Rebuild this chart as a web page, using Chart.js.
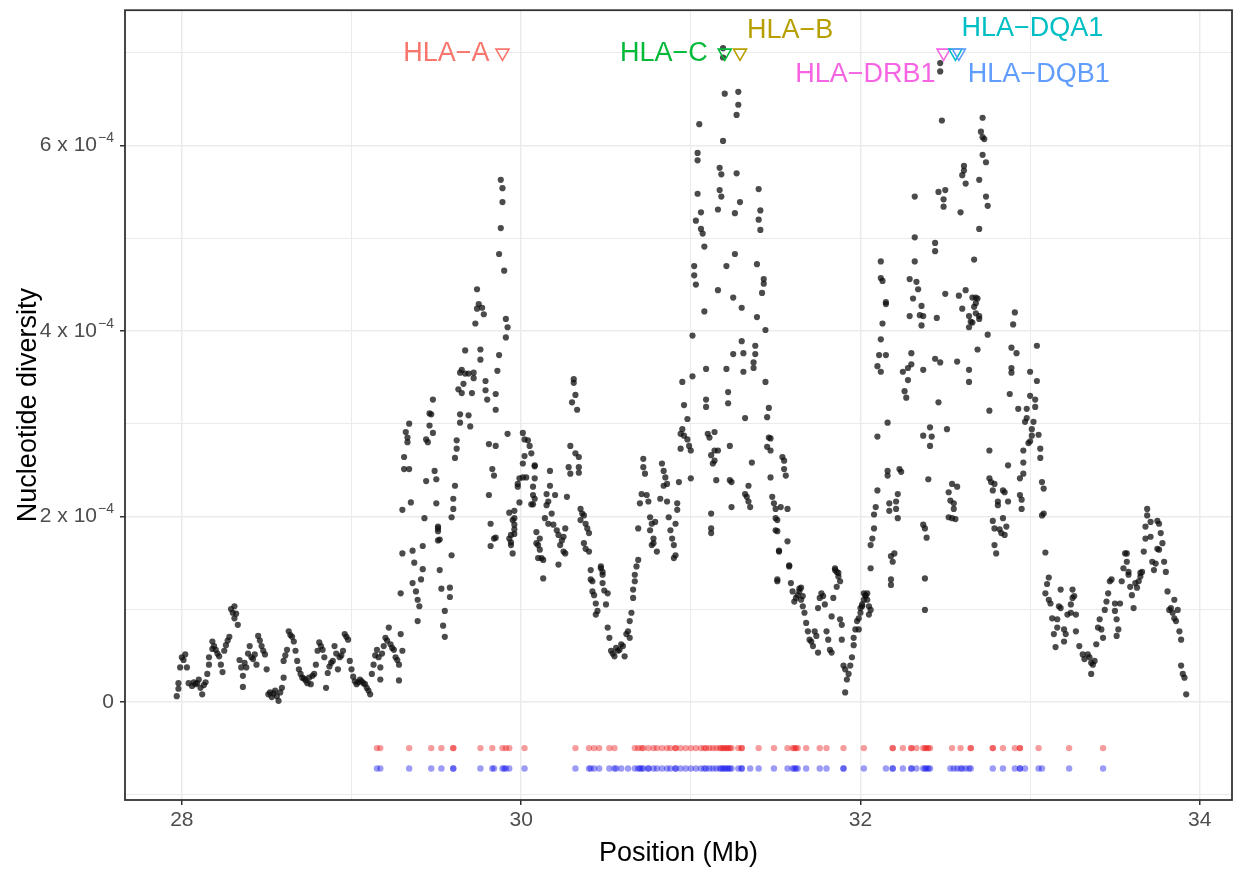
<!DOCTYPE html>
<html>
<head>
<meta charset="utf-8">
<script src="https://cdn.jsdelivr.net/npm/chart.js@4.4.1/dist/chart.umd.min.js"></script>
<style>
  html, body { margin: 0; padding: 0; background: #ffffff; }
  canvas { display: block; }
</style>
</head>
<body>
<canvas id="chart" width="1242" height="873"></canvas>
<script>
// Sliding-window nucleotide diversity across the MHC region.
// Each entry: [position in Mb, diversity in units of 1e-4]
const nucleotideDiversityE4 = [
  // 28.0 - 29.3 Mb: low background
  [27.97,0.06],[27.98,0.14],[27.98,0.20],[27.99,0.37],[28.00,0.48],[28.01,0.45],[28.02,0.51],[28.03,0.37],[28.04,0.20],
  [28.06,0.17],[28.07,0.21],[28.08,0.19],[28.09,0.20],[28.10,0.24],[28.11,0.15],[28.12,0.08],[28.13,0.18],[28.14,0.21],
  [28.15,0.30],[28.16,0.40],[28.16,0.48],[28.18,0.57],[28.18,0.65],[28.19,0.60],[28.20,0.56],[28.21,0.52],[28.22,0.49],
  [28.23,0.40],[28.24,0.32],[28.25,0.55],[28.26,0.61],[28.27,0.66],[28.28,0.70],[28.29,1.00],[28.30,0.96],[28.31,1.03],
  [28.31,0.90],[28.32,0.95],[28.33,0.83],[28.34,0.45],[28.35,0.37],[28.36,0.28],[28.36,0.16],[28.37,0.42],[28.38,0.37],
  [28.39,0.52],[28.40,0.60],[28.41,0.48],[28.42,0.46],[28.43,0.51],[28.44,0.40],[28.45,0.71],[28.46,0.66],[28.47,0.60],
  [28.48,0.55],[28.49,0.51],[28.50,0.35],[28.51,0.08],[28.52,0.10],[28.53,0.05],[28.54,0.09],[28.55,0.12],[28.56,0.06],
  [28.57,0.01],[28.58,0.10],[28.59,0.15],[28.60,0.26],[28.60,0.44],[28.61,0.50],[28.62,0.56],[28.63,0.76],[28.64,0.72],
  [28.65,0.70],[28.66,0.65],[28.67,0.55],[28.68,0.44],[28.69,0.35],[28.70,0.30],[28.71,0.26],[28.72,0.25],[28.73,0.23],
  [28.74,0.20],[28.75,0.26],[28.76,0.19],[28.77,0.28],[28.78,0.30],[28.79,0.40],[28.80,0.55],[28.81,0.64],[28.82,0.60],
  [28.83,0.56],[28.84,0.48],[28.85,0.15],[28.86,0.31],[28.87,0.38],[28.88,0.42],[28.89,0.44],[28.90,0.60],[28.91,0.52],
  [28.92,0.35],[28.93,0.48],[28.94,0.50],[28.95,0.55],[28.96,0.73],[28.97,0.70],[28.98,0.67],[28.99,0.44],[29.00,0.35],
  [29.01,0.27],[29.02,0.22],[29.03,0.19],[29.04,0.21],[29.05,0.24],[29.06,0.22],[29.07,0.20],[29.08,0.19],[29.09,0.15],
  [29.10,0.12],[29.11,0.08],[29.12,0.30],[29.13,0.40],[29.14,0.50],[29.15,0.56],[29.16,0.48],[29.17,0.37],[29.17,0.24],
  [29.18,0.52],[29.19,0.60],[29.20,0.69],[29.21,0.66],[29.22,0.80],[29.23,0.62],[29.24,0.58],[29.25,0.56],[29.26,0.48],
  [29.27,0.45],[29.28,0.23],[29.28,0.40],[29.29,0.73],[29.30,0.55],
  // 29.3 - 30.1 Mb: first rise, HLA-A peak
  [29.30,1.60],[29.29,1.17],[29.36,1.63],[29.36,1.28],[29.37,1.50],[29.38,1.19],[29.39,1.10],[29.40,1.03],[29.39,0.87],
  [29.41,1.32],[29.42,1.43],[29.42,1.68],[29.52,1.42],[29.53,1.22],[29.55,0.98],[29.54,0.82],[29.55,0.70],[29.58,1.23],
  [29.58,1.13],[29.59,1.58],[29.51,1.87],[29.51,1.74],[29.82,1.92],[29.85,1.77],[29.82,1.68],[29.96,1.98],
  [29.74,4.45],[29.75,4.29],[29.74,4.24],[29.77,4.25],[29.78,4.18],[29.73,4.08],[29.91,4.13],[29.92,4.04],[29.91,3.93],
  [29.67,3.79],[29.76,3.80],[29.76,3.69],[29.65,3.58],[29.67,3.54],[29.69,3.54],[29.72,3.55],[29.64,3.55],[29.72,3.49],
  [29.66,3.43],[29.63,3.37],[29.65,3.33],[29.71,3.33],[29.79,3.46],[29.79,3.36],[29.80,3.26],[29.87,3.74],[29.86,3.57],
  [29.85,3.32],[29.85,3.15],
  [29.48,3.26],[29.46,3.11],[29.47,3.10],[29.46,2.98],[29.48,2.90],[29.44,2.83],[29.45,2.80],[29.34,3.00],[29.32,2.91],
  [29.33,2.85],[29.33,2.80],[29.31,2.64],[29.31,2.51],[29.34,2.51],[29.35,2.15],[29.30,2.07],[29.49,2.49],[29.50,2.40],
  [29.44,2.38],[29.50,2.14],[29.43,1.98],[29.51,1.89],[29.51,1.84],[29.52,1.75],
  [29.88,5.63],[29.89,5.54],[29.89,5.39],[29.88,5.11],[29.87,4.83],[29.90,4.65],
  [29.64,3.10],[29.69,3.09],[29.64,3.01],[29.70,2.97],[29.62,2.82],[29.62,2.73],[29.61,2.63],[29.61,2.33],[29.60,2.19],
  [29.60,2.08],[29.59,1.99],[29.81,2.78],[29.85,2.76],[29.83,2.51],[29.84,2.44],[29.81,2.23],[29.84,1.76],[29.92,2.89],
  [30.01,2.90],[30.02,2.83],[30.04,2.82],[30.05,2.76],[30.02,2.65],[30.06,2.68],[30.01,2.57],[30.08,2.54],[29.99,2.41],
  [30.01,2.42],[30.03,2.42],[29.98,2.35],[29.98,2.32],[30.07,2.32],[30.08,2.41],[29.99,2.15],[30.07,2.13],[30.08,2.19],
  [29.93,2.04],[29.96,2.06],[29.95,1.96],[29.96,1.91],[29.96,1.81],[29.93,1.76],[29.94,1.69],[29.95,1.60],[30.09,1.83],
  [30.10,1.69],[30.10,1.55],[29.94,1.80],[29.94,1.72],[29.96,1.86],
  // 30.1 - 30.95 Mb
  [30.08,2.55],[30.07,2.23],[30.06,2.13],[30.17,2.49],[30.17,2.33],[30.15,2.24],[30.16,2.16],[30.20,2.23],[30.15,2.12],
  [30.18,2.03],[30.14,1.98],[30.16,1.92],[30.19,1.91],[30.21,1.85],[30.11,1.76],[30.09,1.71],[30.11,1.64],[30.12,1.55],
  [30.13,1.53],[30.13,1.33],[30.22,1.80],[30.24,1.74],[30.23,1.69],[30.25,1.78],[30.26,1.87],[30.25,1.62],[30.22,1.48],
  [30.29,2.76],[30.32,2.68],[30.34,2.64],[30.28,2.53],[30.29,2.46],[30.34,2.53],[30.34,2.47],[30.27,2.21],[30.35,2.08],
  [30.36,2.03],[30.37,2.01],[30.38,1.92],[30.35,1.96],[30.39,1.87],[30.40,1.82],[30.37,1.71],[30.38,1.65],[30.40,1.62],
  [30.41,1.42],[30.41,1.32],[30.47,1.46],[30.48,1.40],
  [30.31,3.48],[30.31,3.44],[30.32,3.31],[30.30,3.23],[30.33,3.15],
  [30.69,1.87],[30.72,2.62],[30.72,2.53],[30.73,2.46],[30.71,2.24],[30.70,2.14],[30.74,2.23],[30.75,2.16],[30.76,1.99],
  [30.77,1.92],[30.79,1.94],[30.76,1.85],[30.78,1.76],[30.77,1.69],[30.80,1.62],[30.69,1.53],[30.67,1.37],
  [30.83,2.57],[30.84,2.49],[30.85,2.42],[30.84,2.33],[30.86,2.35],[30.82,2.19],[30.86,2.16],[30.87,1.99],[30.88,1.85],
  [30.89,1.76],[30.90,1.69],[30.91,1.58],[30.90,1.55],[30.93,2.37],[30.92,2.14],[30.92,2.07],[30.91,1.92],
  [30.26,1.60],[30.42,1.30],[30.42,1.19],[30.43,1.15],[30.44,1.06],[30.45,0.98],[30.44,0.94],[30.47,1.44],[30.48,1.37],
  [30.48,1.28],[30.51,1.17],[30.50,1.05],[30.49,1.20],
  [30.51,0.80],[30.52,0.69],[30.53,0.55],[30.55,0.49],[30.56,0.58],[30.58,0.56],[30.60,0.60],[30.61,0.49],[30.62,0.73],
  [30.64,0.69],[30.63,0.76],[30.54,0.52],[30.57,0.55],[30.59,0.62],
  [30.64,0.87],[30.65,0.96],[30.66,1.12],[30.66,1.21],[30.67,1.30],[30.68,1.46],[30.78,1.71],
  // 30.95 - 32.1 Mb: HLA-C / HLA-B peak and the trough after it
  [31.19,7.05],[31.19,6.95],[31.20,6.56],[31.28,6.58],[31.28,6.44],[31.27,6.33],[31.05,6.23],[31.19,6.05],[31.04,5.92],
  [31.04,5.84],[31.17,5.76],[31.18,5.69],[31.27,5.70],[31.04,5.48],[31.17,5.52],[31.18,5.45],[31.29,5.39],[31.40,5.53],
  [31.06,5.28],[31.03,5.19],[31.16,5.31],[31.26,5.27],[31.41,5.30],[31.40,5.20],[31.41,5.09],[31.06,5.10],[31.07,5.05],
  [31.08,4.91],[31.26,4.83],[31.02,4.70],[31.02,4.60],[31.03,4.50],[31.21,4.70],[31.39,4.72],[31.43,4.56],[31.43,4.51],
  [31.42,4.41],[31.16,4.44],[31.25,4.36],
  [31.30,4.25],[31.08,4.21],[31.39,4.15],[31.44,4.01],[31.01,3.95],[31.30,3.89],[31.31,3.76],[31.25,3.75],[31.38,3.84],
  [31.38,3.75],[31.37,3.66],[31.37,3.60],[31.31,3.56],[31.21,3.59],[31.09,3.59],[31.01,3.51],[30.95,3.45],[31.44,3.45],
  [31.22,3.34],[31.22,3.22],[31.09,3.26],[31.09,3.18],[30.96,3.20],[31.46,3.17],[31.45,3.07],[31.32,3.06],[30.98,3.05],
  [30.95,2.94],[30.94,2.89],[30.96,2.87],[30.94,2.73],[30.98,2.83],[30.99,2.76],[31.00,2.71],[31.00,2.41],[31.10,2.89],
  [31.11,2.85],[31.14,2.91],[31.12,2.66],[31.14,2.71],[31.16,2.71],[31.13,2.57],[31.14,2.60],[31.23,2.76],[31.15,2.39],
  [31.23,2.39],[31.24,2.37],[31.36,2.58],[31.12,2.03],[31.12,1.87],[31.12,1.82],[31.24,2.10],[31.32,2.24],[31.33,2.21],
  [31.34,2.16],[31.35,2.10],[31.34,2.33],
  [31.46,2.85],[31.47,2.84],[31.45,2.75],[31.47,2.71],[31.47,2.42],[31.54,2.64],[31.55,2.60],[31.55,2.51],[31.56,2.44],
  [31.48,2.21],[31.49,2.14],[31.50,2.08],[31.53,2.10],[31.57,2.08],[31.50,1.98],[31.51,1.96],[31.50,1.85],[31.57,1.73],
  [31.52,1.63],[31.58,1.46],[31.51,1.32],[31.85,1.44],[31.86,1.40],[31.87,1.35],
  [31.51,1.84],[31.52,1.62],[31.51,1.30],[31.58,1.47],[31.59,1.28],[31.60,1.19],[31.61,1.08],[31.62,1.12],[31.63,1.15],
  [31.64,1.19],[31.64,1.22],[31.65,1.23],[31.65,1.10],[31.66,1.14],[31.66,1.03],[31.67,0.96],[31.68,0.85],[31.69,0.76],
  [31.70,0.67],[31.71,0.65],[31.72,0.60],[31.73,0.76],[31.74,0.71],[31.75,0.53],[31.75,1.01],[31.76,1.12],[31.77,1.17],
  [31.78,1.14],[31.79,1.05],[31.80,0.76],[31.81,0.67],[31.82,0.56],[31.83,0.53],[31.83,0.92],[31.84,1.12],[31.85,1.42],
  [31.87,1.39],[31.88,1.30],[31.86,1.24],[31.88,0.89],[31.89,0.83],[31.89,0.67],[31.90,0.39],[31.91,0.35],[31.92,0.24],
  [31.91,0.10],[31.93,0.30],[31.94,0.39],[31.95,0.48],[31.96,0.61],[31.96,0.69],[31.97,0.78],[31.98,0.87],[31.99,0.90],
  [32.00,1.01],[32.01,1.05],[32.02,1.10],[32.03,1.15],[32.04,1.17],[32.05,1.03],[32.06,1.44],[32.06,1.69],[32.07,1.76],
  [32.08,1.87],[32.02,1.17],[32.03,1.14],[32.04,1.10],[32.01,1.03],[32.00,0.96],[31.99,0.78],[32.06,0.99],[32.05,0.94],
  // 32.1 - 33.1 Mb: class II peak (DRB1 / DQA1 / DQB1)
  [32.18,1.57],[32.19,1.51],[32.20,1.60],[32.18,1.32],[32.18,1.26],[32.38,1.33],[32.38,0.99],
  [32.47,6.89],[32.47,6.80],[32.48,6.27],[32.72,6.30],[32.71,6.15],[32.73,6.07],[32.72,6.09],[32.72,5.90],[32.74,5.82],
  [32.61,5.78],[32.61,5.73],[32.60,5.68],[32.62,5.59],[32.70,5.63],[32.32,5.45],[32.46,5.50],[32.50,5.52],[32.49,5.42],
  [32.49,5.34],[32.74,5.45],[32.75,5.35],[32.59,5.28],[32.70,5.10],[32.32,5.01],[32.44,4.95],[32.44,4.86],[32.67,4.77],
  [32.12,4.75],[32.32,4.75],[32.12,4.57],[32.13,4.54],[32.29,4.56],[32.33,4.53],[32.34,4.45],[32.50,4.40],[32.58,4.38],
  [32.62,4.44],[32.66,4.36],[32.68,4.36],[32.31,4.35],[32.15,4.31],
  [32.15,4.29],[32.36,4.27],[32.35,4.17],[32.37,4.16],[32.29,4.16],[32.36,4.06],[32.45,4.14],[32.69,4.35],[32.68,4.30],
  [32.67,4.26],[32.60,4.24],[32.64,4.16],[32.65,4.10],[32.68,4.19],[32.70,4.16],[32.70,4.13],[32.66,4.09],[32.64,4.04],
  [32.91,4.20],[32.90,4.07],[32.13,4.08],[32.12,3.91],[32.75,3.96],[32.11,3.74],[32.15,3.74],[32.10,3.62],[32.12,3.56],
  [32.30,3.76],[32.25,3.56],[32.28,3.60],[32.30,3.64],[32.28,3.47],[32.37,3.58],[32.44,3.70],[32.47,3.66],[32.57,3.67],
  [32.69,3.80],[32.64,3.58],[32.64,3.45],[32.89,3.82],[32.92,3.76],[32.89,3.60],[32.89,3.55],[33.04,3.84],[33.00,3.56],
  [33.04,3.46],[32.26,3.35],[32.27,3.28],[32.46,3.23],[32.88,3.32],[33.00,3.30],[33.03,3.26],[33.03,3.18],[32.76,3.14],
  [32.93,3.16],[32.98,3.16],[32.16,3.01],[32.98,3.06],[32.97,3.02],[33.02,3.02],[33.01,2.94],[32.10,2.86],[32.41,2.96],
  [32.37,2.87],[32.42,2.86],[32.41,2.76],[32.51,2.94],[33.01,2.87],[33.05,2.88],[32.99,2.79],[33.00,2.81],[32.76,2.71],
  [33.06,2.73],[33.06,2.63],[32.96,2.71],[32.96,2.58],[32.87,2.55],[32.16,2.49],[32.16,2.44],[32.23,2.51],[32.24,2.48],
  [32.40,2.40],[32.76,2.41],[32.77,2.37],[32.79,2.35],[32.78,2.28],[32.54,2.35],[32.57,2.32],[32.52,2.26],[32.53,2.17],
  [32.55,2.14],[32.55,2.08],[32.94,2.41],[32.96,2.46],[33.07,2.37],[33.08,2.30],[32.84,2.28],[32.85,2.26],[32.81,2.16],
  [32.81,2.12],[32.87,2.16],[32.94,2.23],[32.95,2.18],[32.95,2.08],[32.10,2.28],[32.09,2.10],[32.08,2.02],[32.17,2.14],
  [32.17,2.06],[32.22,2.24],[32.21,2.16],[32.21,2.08],[32.22,1.98],[32.52,1.99],[32.54,1.98],[32.56,1.97],[33.08,2.03],
  [33.07,2.01],[32.37,1.91],[32.38,1.87],[32.39,1.77],[32.78,1.95],[32.79,1.87],[32.82,1.86],[32.83,1.82],[32.84,1.98],
  [32.86,1.89],[32.85,1.80],[32.79,1.69],[32.80,1.60],[33.09,1.61],[33.11,1.34],
  // 33.1 - 34.0 Mb
  [33.10,1.27],[33.09,1.17],[33.11,1.10],[33.12,1.06],[33.13,0.90],[33.14,0.73],[33.15,0.59],[33.16,0.80],[33.16,0.89],
  [33.18,1.21],[33.17,1.03],[33.18,1.01],[33.20,0.78],[33.21,0.73],[33.20,0.65],[33.22,0.94],[33.24,1.05],[33.25,1.12],
  [33.26,1.14],[33.24,0.96],[33.27,0.94],[33.27,0.76],[33.25,1.21],[33.29,0.60],[33.31,0.51],[33.32,0.46],[33.34,0.51],
  [33.35,0.48],[33.36,0.42],[33.37,0.40],[33.36,0.30],[33.38,0.44],[33.39,0.62],[33.40,0.80],[33.41,0.89],[33.42,0.78],
  [33.43,0.69],[33.44,0.99],[33.45,1.08],[33.46,1.17],[33.47,1.30],[33.48,1.32],[33.50,1.06],[33.50,0.98],[33.51,0.89],
  [33.51,0.71],[33.52,0.78],[33.53,1.06],[33.54,1.30],[33.55,1.44],[33.56,1.60],[33.57,1.60],[33.57,1.51],[33.58,1.37],
  [33.58,1.40],[33.59,1.24],[33.60,1.15],[33.61,1.01],[33.62,1.28],[33.63,1.23],[33.64,1.30],[33.65,1.35],[33.65,1.39],
  [33.66,1.40],[33.67,1.62],[33.68,1.76],[33.68,1.89],[33.69,2.01],[33.69,2.08],[33.71,1.94],[33.71,1.78],[33.72,1.51],
  [33.73,1.42],[33.74,1.49],[33.75,1.95],[33.75,1.65],[33.76,1.92],[33.77,1.82],[33.78,1.71],[33.76,1.64],[33.79,1.51],
  [33.80,1.40],[33.81,1.19],[33.82,0.99],[33.83,1.01],[33.84,0.96],[33.85,1.10],[33.85,0.90],[33.86,0.87],[33.87,0.99],
  [33.88,0.76],[33.89,0.67],[33.89,0.39],[33.90,0.30],[33.91,0.26],[33.92,0.08]
];

// HLA genes marked along the top of the panel
const hlaGenes = ['HLA\u2212A', 'HLA\u2212C', 'HLA\u2212B', 'HLA\u2212DRB1', 'HLA\u2212DQA1', 'HLA\u2212DQB1'];
const hlaPositionMb = [29.89, 31.20, 31.29, 32.49, 32.56, 32.58];
const hlaMarkerLevelE4 = 7.0;

// Variant sites shown as two rug rows under the curve
const redSitesMb = [
  29.15,29.17,29.34,29.47,29.53,29.60,29.60,29.76,29.83,29.89,29.91,29.93,30.02,30.32,30.40,30.43,30.46,30.52,30.55,
  30.67,30.69,30.71,30.72,30.75,30.78,30.80,30.83,30.86,30.88,30.91,30.91,30.94,30.97,31.00,31.03,31.06,31.08,31.09,
  31.11,31.13,31.15,31.17,31.18,31.19,31.20,31.21,31.22,31.23,31.24,31.28,31.30,31.30,31.40,31.49,31.57,31.60,31.61,
  31.62,31.63,31.68,31.76,31.80,31.90,32.02,32.19,32.19,32.25,32.30,32.30,32.33,32.37,32.38,32.39,32.40,32.41,32.54,
  32.59,32.65,32.65,32.78,32.78,32.84,32.91,32.94,32.94,33.05,33.23,33.43
];
const blueSitesMb = [
  29.15,29.17,29.34,29.47,29.53,29.60,29.60,29.76,29.83,29.84,29.89,29.90,29.91,29.93,30.02,30.32,30.40,30.41,30.43,
  30.46,30.52,30.55,30.56,30.59,30.63,30.67,30.69,30.70,30.71,30.72,30.75,30.75,30.78,30.80,30.83,30.86,30.88,30.91,
  30.91,30.94,30.97,31.00,31.03,31.06,31.08,31.09,31.11,31.13,31.15,31.17,31.18,31.19,31.20,31.21,31.22,31.23,31.24,
  31.28,31.30,31.30,31.35,31.40,31.49,31.57,31.60,31.61,31.62,31.63,31.68,31.76,31.80,31.90,31.90,32.02,32.15,32.19,
  32.19,32.25,32.30,32.30,32.33,32.37,32.38,32.39,32.40,32.41,32.53,32.55,32.57,32.59,32.60,32.62,32.64,32.65,32.78,
  32.84,32.91,32.94,32.94,32.97,33.05,33.07,33.23,33.43
];
const redRowE4 = -0.5;
const blueRowE4 = -0.72;

// Axis ranges
const xRange = [27.665, 34.19];
const yRange = [-1.06, 7.46];

// ---------- styling ----------
const FONT = "'Liberation Sans', Arial, Helvetica, sans-serif";
const hlaColors = ['#F8766D', '#00BA38', '#B79F00', '#F564E3', '#00BFC4', '#619CFF'];
// label anchor offsets (px) relative to each triangle, with text alignment
const hlaLabelLayout = [
  { dx: -13, dy: 1, align: 'right' },
  { dx: -17, dy: 1, align: 'right' },
  { dx: 7, dy: -22, align: 'left' },
  { dx: -8, dy: 22, align: 'right' },
  { dx: 6, dy: -24, align: 'left' },
  { dx: 9, dy: 22, align: 'left' }
];

const isMajor = v => Math.abs(v % 2) < 1e-9;

const panelPlugin = {
  id: 'panel',
  beforeDraw(chart) {
    const c = chart.ctx;
    c.save();
    c.fillStyle = '#ffffff';
    c.fillRect(0, 0, chart.width, chart.height);
    c.restore();
  },
  afterDraw(chart) {
    const { left, top, right, bottom } = chart.chartArea;
    const c = chart.ctx;
    c.save();
    c.strokeStyle = '#333333';
    c.lineWidth = 1.8;
    c.strokeRect(left, top, right - left, bottom - top);
    c.restore();
  }
};

// y tick labels with a superscript exponent
const yLabelPlugin = {
  id: 'yLabels',
  afterDraw(chart) {
    const ys = chart.scales.y;
    const c = chart.ctx;
    const rightEdge = chart.chartArea.left - 11;
    c.save();
    c.fillStyle = '#4d4d4d';
    c.textBaseline = 'middle';
    ys.ticks.forEach(t => {
      const v = t.value;
      if (!isMajor(v) || v < 0) return;
      const py = ys.getPixelForValue(v);
      if (v === 0) {
        c.font = `21px ${FONT}`;
        c.textAlign = 'right';
        c.fillText('0', rightEdge, py);
        return;
      }
      c.font = `14px ${FONT}`;
      const sup = '\u22124';
      const sw = c.measureText(sup).width;
      c.textAlign = 'right';
      c.fillText(sup, rightEdge, py - 7);
      c.font = `21px ${FONT}`;
      c.fillText(`${v} x 10`, rightEdge - sw - 1, py);
    });
    c.restore();
  }
};

const hlaLabelPlugin = {
  id: 'hlaLabels',
  afterDatasetsDraw(chart) {
    const xs = chart.scales.x, ys = chart.scales.y;
    const c = chart.ctx;
    c.save();
    c.font = `27px ${FONT}`;
    c.textBaseline = 'middle';
    hlaGenes.forEach((name, i) => {
      const px = xs.getPixelForValue(hlaPositionMb[i]);
      const py = ys.getPixelForValue(hlaMarkerLevelE4);
      const lay = hlaLabelLayout[i];
      c.fillStyle = hlaColors[i];
      c.textAlign = lay.align;
      c.fillText(name, px + lay.dx, py + lay.dy);
    });
    c.restore();
  }
};

const gridWidth = ctx => (ctx.tick && isMajor(ctx.tick.value) ? 1.5 : 1.0);
const tickColor = ctx => (ctx.tick && isMajor(ctx.tick.value) ? '#333333' : 'rgba(0,0,0,0)');

new Chart(document.getElementById('chart'), {
  type: 'scatter',
  data: {
    datasets: [
      {
        label: 'HLA genes',
        data: hlaPositionMb.map(x => ({ x, y: hlaMarkerLevelE4 })),
        pointStyle: 'triangle',
        rotation: 180,
        pointRadius: 7.5,
        backgroundColor: 'rgba(0,0,0,0)',
        borderColor: hlaColors,
        borderWidth: 1.6
      },
      {
        label: 'Nucleotide diversity',
        data: nucleotideDiversityE4.map(([x, y]) => ({ x, y })),
        backgroundColor: 'rgba(15,15,15,0.75)',
        borderWidth: 0,
        pointRadius: 3.1
      },
      {
        label: 'Sites (red)',
        data: redSitesMb.map(x => ({ x, y: redRowE4 })),
        backgroundColor: 'rgba(235,20,20,0.42)',
        borderWidth: 0,
        pointRadius: 3.2
      },
      {
        label: 'Sites (blue)',
        data: blueSitesMb.map(x => ({ x, y: blueRowE4 })),
        backgroundColor: 'rgba(20,20,235,0.42)',
        borderWidth: 0,
        pointRadius: 3.2
      }
    ]
  },
  options: {
    responsive: false,
    animation: false,
    events: [],
    layout: { padding: { top: 5, right: 10, left: 0, bottom: 0 } },
    plugins: { legend: { display: false }, tooltip: { enabled: false } },
    scales: {
      x: {
        type: 'linear',
        min: xRange[0],
        max: xRange[1],
        afterFit: s => { s.height = 73; },
        border: { display: false },
        grid: { color: '#ebebeb', lineWidth: gridWidth, tickColor: tickColor, tickLength: 5, tickWidth: 1.5 },
        ticks: {
          stepSize: 1, includeBounds: false, autoSkip: false, maxRotation: 0,
          font: { family: FONT, size: 21 }, color: '#4d4d4d', padding: 3,
          callback: v => (isMajor(v) ? String(v) : '')
        },
        title: { display: true, text: 'Position (Mb)', color: '#000000', font: { family: FONT, size: 27 }, padding: { top: 0, bottom: 3 } }
      },
      y: {
        type: 'linear',
        min: yRange[0],
        max: yRange[1],
        afterFit: s => { s.width = 125; },
        border: { display: false },
        grid: { color: '#ebebeb', lineWidth: gridWidth, tickColor: tickColor, tickLength: 5, tickWidth: 1.5 },
        ticks: { stepSize: 1, includeBounds: false, autoSkip: false, callback: () => '' },
        title: { display: true, text: 'Nucleotide diversity', color: '#000000', font: { family: FONT, size: 27 }, padding: { top: 12, bottom: 0 } }
      }
    }
  },
  plugins: [panelPlugin, yLabelPlugin, hlaLabelPlugin]
});
</script>
</body>
</html>
